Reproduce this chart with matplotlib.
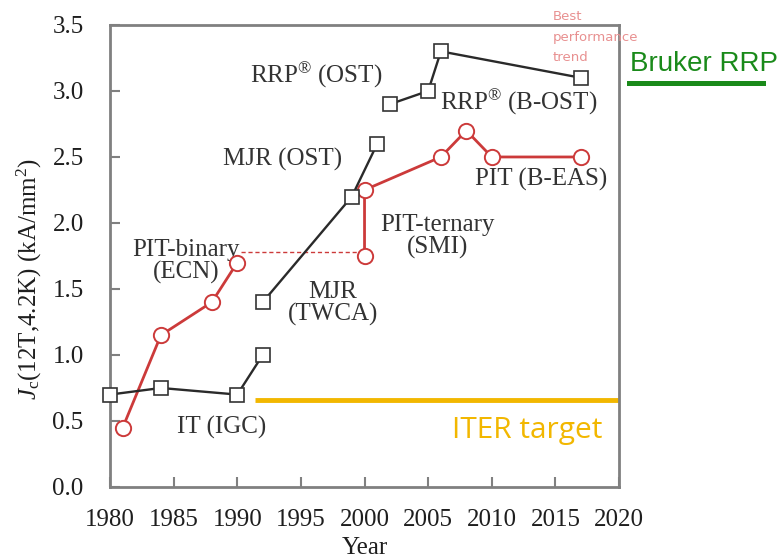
import numpy as np
import matplotlib
matplotlib.use("Agg")
import matplotlib.pyplot as plt

plt.rcParams['font.family'] = ['Liberation Serif', 'DejaVu Serif']
plt.rcParams['mathtext.fontset'] = 'custom'
plt.rcParams['mathtext.rm'] = 'Liberation Serif'
plt.rcParams['mathtext.it'] = 'Liberation Serif:italic'

# black squares: IT (IGC) + MJR, and RRP
it_years = [1980, 1984, 1990, 1992]
it_jc = [0.70, 0.75, 0.70, 1.00]
mjr_years = [1992, 1999, 2001]
mjr_jc = [1.40, 2.20, 2.60]
rrp_years = [2002, 2005, 2006, 2017]
rrp_jc = [2.90, 3.00, 3.30, 3.10]

# red circles: PIT binary, PIT ternary / B-EAS
pitb_years = [1981, 1984, 1988, 1990]
pitb_jc = [0.45, 1.15, 1.40, 1.70]
pitt_years = [2000, 2000, 2006, 2008, 2010, 2017]
pitt_jc = [1.75, 2.25, 2.50, 2.70, 2.50, 2.50]

dash_years = [1990.3, 1999.6]
dash_jc = [1.78, 1.78]

iter_years = [1991.4, 2020]
iter_jc = [0.66, 0.66]

labels = [
    ("RRP$^{®}$ (OST)", 1991.0, 3.12, 'left'),
    ("RRP$^{®}$ (B-OST)", 2005.9, 2.91, 'left'),
    ("MJR (OST)", 1988.9, 2.48, 'left'),
    ("PIT (B-EAS)", 2008.7, 2.33, 'left'),
    ("PIT-ternary\n(SMI)", 2005.7, 1.90, 'center'),
    ("PIT-binary\n(ECN)", 1986.0, 1.71, 'center'),
    ("MJR\n(TWCA)", 1997.5, 1.39, 'center'),
    ("IT (IGC)", 1988.8, 0.45, 'center'),
]

black = '#2a2a2a'
red = '#cc3a3a'
gold = '#f2b700'

fig = plt.figure(figsize=(7.77, 5.6), dpi=100)
ax = fig.add_axes([0.1416, 0.1304, 0.6551, 0.825])

sq = dict(marker='s', markersize=10, markerfacecolor='white',
          markeredgecolor='#333333', markeredgewidth=1.2, color=black, lw=1.7)
ci = dict(marker='o', markersize=11, markerfacecolor='white',
          markeredgecolor=red, markeredgewidth=1.4, color=red, lw=2.0)

ax.plot(dash_years, dash_jc, '--', color=red, lw=1.0, dashes=(3, 2))
ax.plot(iter_years, iter_jc, color=gold, lw=3.5, solid_capstyle='butt', zorder=1)
ax.plot(it_years, it_jc, clip_on=False, zorder=5, **sq)
ax.plot(mjr_years, mjr_jc, clip_on=False, zorder=5, **sq)
ax.plot(rrp_years, rrp_jc, clip_on=False, zorder=5, **sq)
ax.plot(pitb_years, pitb_jc, clip_on=False, zorder=4, **ci)
ax.plot(pitt_years, pitt_jc, clip_on=False, zorder=4, **ci)

for txt, x, y, ha in labels:
    ax.text(x, y, txt, ha=ha, va='center', fontsize=18, color='#333333',
            linespacing=1.0)

ax.text(2018.7, 0.37, "ITER target", ha='right', va='baseline', fontsize=21.5,
        color=gold, family='Open Sans')

ax.set_xlim(1980, 2020)
ax.set_ylim(0, 3.5)
ax.set_xticks(np.arange(1980, 2021, 5))
ax.set_yticks(np.arange(0, 3.51, 0.5))
ax.set_yticklabels([f"{v:.1f}" for v in np.arange(0, 3.51, 0.5)])
ax.tick_params(direction='in', length=7, width=1.5, color='#808080',
               labelsize=18, labelcolor='#1e1e1e')
ax.tick_params(axis='y', pad=19)
ax.tick_params(axis='x', pad=16)
for s in ax.spines.values():
    s.set_color('#808080')
    s.set_linewidth(2)

ax.set_xlabel("Year", fontsize=18, color='#1e1e1e', labelpad=4)
ax.set_ylabel(r"$J_{\mathrm{c}}$(12T,4.2K) (kA/mm$^2$)", fontsize=18,
              color='#1e1e1e')
ax.yaxis.set_label_coords(-0.13, 0.45)

fig.text(553 / 777, 1 - 10 / 560, "Best\nperformance\ntrend", ha='left',
         va='top', fontsize=9.5, color='#e89090', family='DejaVu Sans',
         linespacing=1.75)
fig.text(630 / 777, 1 - 64 / 560, "Bruker RRP", ha='left', va='center',
         fontsize=20, color='#1a8a1a', family='Liberation Sans')
fig.add_artist(plt.Line2D([629 / 777, 763 / 777], [1 - 83 / 560, 1 - 83 / 560],
                          color='#1a8a1a', lw=3.6))

fig.savefig("out.png", dpi=100)
